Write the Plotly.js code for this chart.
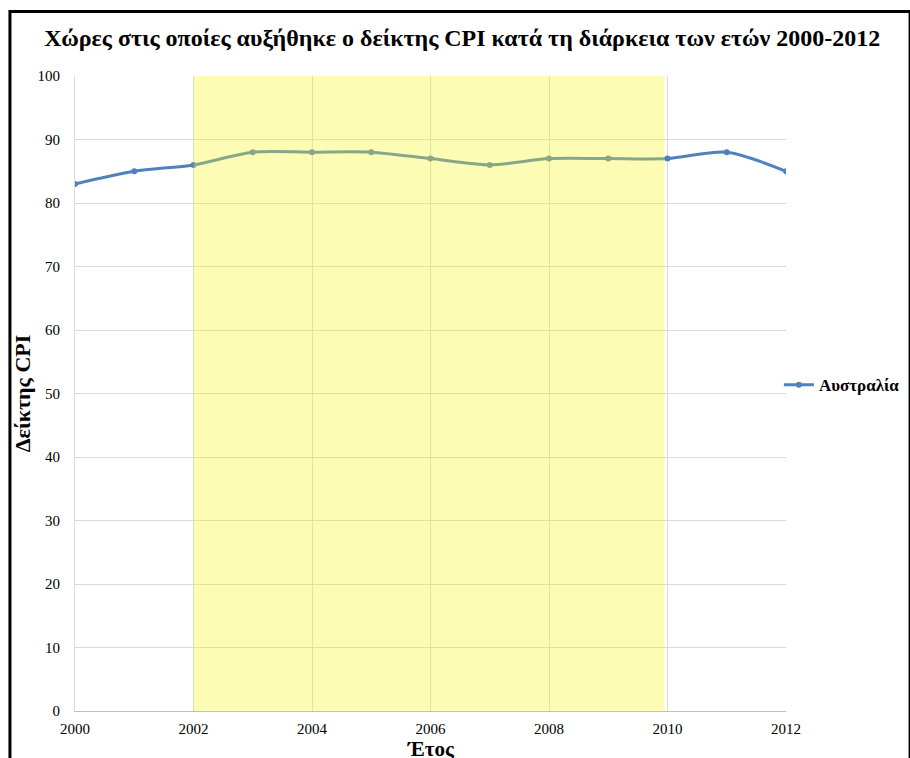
<!DOCTYPE html>
<html>
<head>
<meta charset="utf-8">
<script src="https://cdn.plot.ly/plotly-3.0.1.min.js"></script>
<style>html,body{margin:0;padding:0;background:#fff;}#chart{width:910px;height:758px;}</style>
</head>
<body>
<div id="chart"></div>
<script>
const years = [2000, 2001, 2002, 2003, 2004, 2005, 2006, 2007, 2008, 2009, 2010, 2011, 2012];
const cpiAustralia = [83, 85, 86, 88, 88, 88, 87, 86, 87, 87, 87, 88, 85];
const seriesName = 'Αυστραλία';
const titleText = 'Χώρες στις οποίες αυξήθηκε ο δείκτης CPI κατά τη διάρκεια των ετών 2000-2012';
const xTitle = 'Έτος';
const yTitle = 'Δείκτης CPI';
const highlightStart = 2002;
const highlightEnd = 2009.95;

const serif = '"Liberation Serif", "Times New Roman", "DejaVu Serif", serif';

const trace = {
  x: years,
  y: cpiAustralia,
  type: 'scatter',
  mode: 'lines+markers',
  name: '<b>' + seriesName + '</b>',
  line: {color: '#4F81BD', width: 3, shape: 'spline', smoothing: 0.8},
  marker: {color: '#4F81BD', size: 6}
};

const layout = {
  width: 910,
  height: 758,
  margin: {l: 75, r: 124, t: 76, b: 47, autoexpand: false},
  paper_bgcolor: '#ffffff',
  plot_bgcolor: '#ffffff',
  font: {family: serif, color: '#000000'},
  title: {
    text: '<b>' + titleText + '</b>',
    font: {family: serif, size: 24, color: '#000000'},
    x: 0.508, xanchor: 'center', xref: 'container',
    y: 0.951, yanchor: 'middle', yref: 'container'
  },
  xaxis: {
    range: [2000, 2012],
    dtick: 2, tick0: 2000,
    showgrid: true, gridcolor: '#d9d9d9', gridwidth: 1,
    showline: true, linecolor: '#bfbfbf', linewidth: 1,
    zeroline: false,
    ticks: '',
    ticklabelstandoff: 4,
    tickfont: {family: serif, size: 15, color: '#000000'}
  },
  yaxis: {
    range: [0, 100],
    dtick: 10,
    showgrid: true, gridcolor: '#d9d9d9', gridwidth: 1,
    showline: true, linecolor: '#d9d9d9', linewidth: 1,
    zeroline: false,
    ticks: '',
    ticklabelstandoff: 11,
    tickfont: {family: serif, size: 15, color: '#000000'},
    title: {text: '<b>' + yTitle + '</b>', font: {family: serif, size: 22, color: '#000000'}, standoff: 0}
  },
  annotations: [
    {
      text: '<b>' + xTitle + '</b>',
      xref: 'paper', yref: 'paper',
      x: 0.5, xanchor: 'center',
      y: -0.039, yanchor: 'top',
      showarrow: false, borderpad: 0,
      font: {family: serif, size: 21, color: '#000000'}
    }
  ],
  showlegend: true,
  legend: {
    x: 0.99, xanchor: 'left', y: 0.513, yanchor: 'middle',
    font: {family: serif, size: 17, color: '#000000'},
    bgcolor: 'rgba(0,0,0,0)',
    itemwidth: 30
  },
  shapes: [
    {
      type: 'rect', xref: 'x', yref: 'y',
      x0: highlightStart, x1: highlightEnd, y0: 0, y1: 100,
      fillcolor: 'rgba(250,246,30,0.33)', line: {width: 0}, layer: 'above'
    },
    {
      type: 'rect', xref: 'paper', yref: 'paper',
      x0: -0.0915, x1: 1.1745, y0: -0.2, y1: 1.1015,
      fillcolor: 'rgba(0,0,0,0)', line: {color: '#000000', width: 3}, layer: 'above'
    }
  ]
};

Plotly.newPlot('chart', [trace], layout, {displayModeBar: false, staticPlot: true});
</script>
</body>
</html>
